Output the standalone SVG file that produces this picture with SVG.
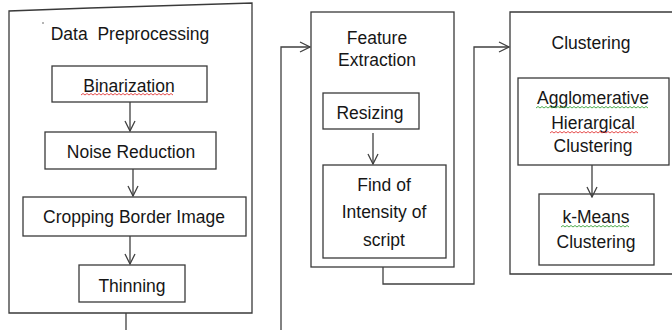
<svg xmlns="http://www.w3.org/2000/svg" width="672" height="330" viewBox="0 0 672 330">
  <style>
    .box { fill: #ffffff; stroke: #3a3a3a; stroke-width: 1.3; }
    .frame { fill: none; stroke: #3a3a3a; stroke-width: 1.3; }
    .wire { fill: none; stroke: #404040; stroke-width: 1.3; }
    .lbl { font-family: "Liberation Sans", Arial, sans-serif; font-size: 17.5px; fill: #161616; text-anchor: middle; }
    .red { fill: none; stroke: #e23a3a; stroke-width: 0.9; }
    .green { fill: none; stroke: #3aa33a; stroke-width: 0.9; }
  </style>
  <defs>
    <marker id="open" viewBox="0 0 12 12" refX="11" refY="6" markerWidth="12" markerHeight="12" markerUnits="userSpaceOnUse" orient="auto">
      <path d="M1,1 L11,6 L1,11" fill="none" stroke="#404040" stroke-width="1.3"/>
    </marker>
    <pattern id="wave" width="4" height="3" patternUnits="userSpaceOnUse">
      <path d="M0,2 L1,0.5 L2,2 L3,0.5 L4,2" fill="none"/>
    </pattern>
  </defs>
  <rect width="672" height="330" fill="#ffffff"/>

  <!-- Stage 1: Data Preprocessing -->
  <g id="data-preprocessing">
    <path class="frame" d="M9,313 L9,11 L90,8 L252,3 L252,313 Z"/>
    <circle cx="43" cy="23" r="0.7" fill="#333"/>
    <text class="lbl" x="130" y="40" xml:space="preserve">Data  Preprocessing</text>
  </g>
  <g id="binarization">
    <rect class="box" x="52" y="66" width="155" height="36"/>
    <text class="lbl" x="129" y="92">Binarization</text>
    <path class="red" d="M81,95 l2,-1.5 l2,1.5 l2,-1.5 l2,1.5 l2,-1.5 l2,1.5 l2,-1.5 l2,1.5 l2,-1.5 l2,1.5 l2,-1.5 l2,1.5 l2,-1.5 l2,1.5 l2,-1.5 l2,1.5 l2,-1.5 l2,1.5 l2,-1.5 l2,1.5 l2,-1.5 l2,1.5 l2,-1.5 l2,1.5 l2,-1.5 l2,1.5 l2,-1.5 l2,1.5 l2,-1.5 l2,1.5 l2,-1.5 l2,1.5 l2,-1.5 l2,1.5 l2,-1.5 l2,1.5 l2,-1.5 l2,1.5 l2,-1.5 l2,1.5 l2,-1.5 l2,1.5 l2,-1.5 l2,1.5 l2,-1.5 l2,1.5"/>
  </g>
  <g id="noise-reduction">
    <rect class="box" x="45" y="132" width="171" height="37"/>
    <text class="lbl" x="131" y="158">Noise Reduction</text>
  </g>
  <g id="cropping">
    <rect class="box" x="23" y="197" width="223" height="39"/>
    <text class="lbl" x="134" y="223">Cropping Border Image</text>
  </g>
  <g id="thinning">
    <rect class="box" x="79" y="265" width="106" height="37"/>
    <text class="lbl" x="132" y="292">Thinning</text>
  </g>

  <!-- Stage 2: Feature Extraction -->
  <g id="feature-extraction">
    <rect class="box" x="311" y="12" width="143" height="255"/>
    <text class="lbl" x="377" y="44">Feature</text>
    <text class="lbl" x="377" y="66">Extraction</text>
  </g>
  <g id="resizing">
    <rect class="box" x="323" y="93" width="96" height="36"/>
    <text class="lbl" x="370" y="119">Resizing</text>
  </g>
  <g id="intensity">
    <rect class="box" x="323" y="165" width="123" height="93"/>
    <text class="lbl" x="384" y="191">Find of</text>
    <text class="lbl" x="384" y="218">Intensity of</text>
    <text class="lbl" x="384" y="246">script</text>
  </g>

  <!-- Stage 3: Clustering -->
  <g id="clustering">
    <path class="frame" d="M680,12 L510,12 L510,274 L680,274"/>
    <text class="lbl" x="591" y="49">Clustering</text>
  </g>
  <g id="agglomerative">
    <rect class="box" x="518" y="78" width="151" height="87"/>
    <text class="lbl" x="593" y="104">Agglomerative</text>
    <text class="lbl" x="593" y="129">Hierargical</text>
    <text class="lbl" x="593" y="152">Clustering</text>
    <path class="green" d="M536,108 l2,-1.5 l2,1.5 l2,-1.5 l2,1.5 l2,-1.5 l2,1.5 l2,-1.5 l2,1.5 l2,-1.5 l2,1.5 l2,-1.5 l2,1.5 l2,-1.5 l2,1.5 l2,-1.5 l2,1.5 l2,-1.5 l2,1.5 l2,-1.5 l2,1.5 l2,-1.5 l2,1.5 l2,-1.5 l2,1.5 l2,-1.5 l2,1.5 l2,-1.5 l2,1.5 l2,-1.5 l2,1.5 l2,-1.5 l2,1.5 l2,-1.5 l2,1.5 l2,-1.5 l2,1.5 l2,-1.5 l2,1.5 l2,-1.5 l2,1.5 l2,-1.5 l2,1.5 l2,-1.5 l2,1.5 l2,-1.5 l2,1.5 l2,-1.5 l2,1.5 l2,-1.5 l2,1.5 l2,-1.5 l2,1.5 l2,-1.5 l2,1.5 l2,-1.5 l2,1.5"/>
    <path class="red" d="M550,133 l2,-1.5 l2,1.5 l2,-1.5 l2,1.5 l2,-1.5 l2,1.5 l2,-1.5 l2,1.5 l2,-1.5 l2,1.5 l2,-1.5 l2,1.5 l2,-1.5 l2,1.5 l2,-1.5 l2,1.5 l2,-1.5 l2,1.5 l2,-1.5 l2,1.5 l2,-1.5 l2,1.5 l2,-1.5 l2,1.5 l2,-1.5 l2,1.5 l2,-1.5 l2,1.5 l2,-1.5 l2,1.5 l2,-1.5 l2,1.5 l2,-1.5 l2,1.5 l2,-1.5 l2,1.5 l2,-1.5 l2,1.5 l2,-1.5 l2,1.5 l2,-1.5 l2,1.5 l2,-1.5 l2,1.5"/>
  </g>
  <g id="k-means">
    <rect class="box" x="539" y="194" width="115" height="71"/>
    <text class="lbl" x="596" y="223">k-Means</text>
    <text class="lbl" x="596" y="248">Clustering</text>
    <path class="green" d="M561,227 l2,-1.5 l2,1.5 l2,-1.5 l2,1.5 l2,-1.5 l2,1.5 l2,-1.5 l2,1.5 l2,-1.5 l2,1.5 l2,-1.5 l2,1.5 l2,-1.5 l2,1.5 l2,-1.5 l2,1.5 l2,-1.5 l2,1.5 l2,-1.5 l2,1.5 l2,-1.5 l2,1.5 l2,-1.5 l2,1.5 l2,-1.5 l2,1.5 l2,-1.5 l2,1.5 l2,-1.5 l2,1.5 l2,-1.5 l2,1.5 l2,-1.5 l2,1.5"/>
  </g>

  <!-- Connectors -->
  <g id="connectors">
    <line class="wire" x1="130" y1="102" x2="130" y2="131" marker-end="url(#open)"/>
    <line class="wire" x1="133" y1="169" x2="133" y2="196" marker-end="url(#open)"/>
    <line class="wire" x1="130" y1="236" x2="130" y2="264" marker-end="url(#open)"/>
    <line class="wire" x1="126" y1="313" x2="126" y2="330"/>
    <polyline class="wire" points="281,330 281,47 310,47" marker-end="url(#open)"/>
    <line class="wire" x1="373" y1="133" x2="373" y2="164" marker-end="url(#open)"/>
    <polyline class="wire" points="383,267 383,284 474,284 474,47 509,47" marker-end="url(#open)"/>
    <line class="wire" x1="592" y1="165" x2="592" y2="197" marker-end="url(#open)"/>
  </g>
</svg>
